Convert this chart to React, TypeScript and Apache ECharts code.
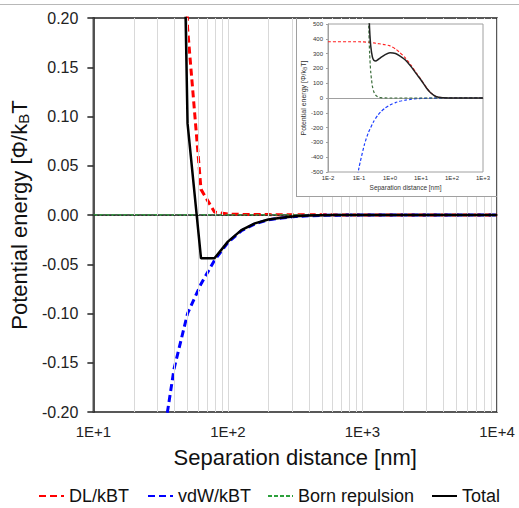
import React, { useEffect, useRef } from 'react';
import * as echarts from 'echarts';

const FONT = '"Liberation Sans", Arial, Helvetica, sans-serif';

// ---------- main chart data (separation distance in nm, 0.1-decade steps) ----------
const xMain = [10, 12.59, 15.85, 19.95, 25.12, 31.62, 39.81, 50.12, 63.1, 79.43, 100, 125.9, 158.5, 199.5, 251.2, 316.2, 398.1, 501.2, 631, 794.3, 1000, 1259, 1585, 1995, 2512, 3162, 3981, 5012, 6310, 7943, 10000];
const dlMain = [28, 17, 10.5, 6.4, 3.9, 2.3, 1.0, 0.19, 0.026, 0.003, 0.0009, 0.0006, 0.0005, 0.0004, 0.0003, 0.0003, 0.0002, 0.0002, 0.0001, 0.0001, 0, 0, 0, 0, 0, 0, 0, 0, 0, 0, 0];
const vdwMain = [-2.6, -1.7, -1.1, -0.72, -0.45, -0.245, -0.156, -0.1, -0.07, -0.046, -0.028, -0.016, -0.009, -0.005, -0.003, -0.0016, -0.0008, -0.0004, -0.0002, -0.0001, 0, 0, 0, 0, 0, 0, 0, 0, 0, 0, 0];
const bornMain = [0, 0, 0, 0, 0, 0, 0, 0, 0, 0, 0, 0, 0, 0, 0, 0, 0, 0, 0, 0, 0, 0, 0, 0, 0, 0, 0, 0, 0, 0, 0];
const totalMain = [25.4, 15.3, 9.4, 5.68, 3.45, 2.055, 0.844, 0.093, -0.044, -0.044, -0.027, -0.0154, -0.0085, -0.0046, -0.0027, -0.0013, -0.0006, -0.0002, -0.0001, 0, 0, 0, 0, 0, 0, 0, 0, 0, 0, 0, 0];
const minorGridX = [20, 30, 40, 50, 60, 70, 80, 90, 200, 300, 400, 500, 600, 700, 800, 900, 2000, 3000, 4000, 5000, 6000, 7000, 8000, 9000];

// ---------- inset data [distance nm, energy kT] ----------
const insetDL = [[0.01, 380], [0.1, 380], [0.2, 377], [0.3, 372], [0.4, 368], [0.5, 365], [0.7, 360], [1, 352], [1.5, 332], [2, 310], [3, 275], [5, 215], [7, 170], [10, 125], [15, 70], [20, 38], [30, 10], [50, 1], [100, 0], [1000, 0]];
const insetVdw = [[0.08, -590], [0.1, -470], [0.15, -313], [0.2, -235], [0.3, -157], [0.4, -118], [0.5, -94], [0.7, -67], [1, -47], [1.5, -31], [2, -23], [3, -15], [5, -8], [7, -5], [10, -3], [20, -1], [50, 0], [1000, 0]];
const insetBorn = [[0.19, 760], [0.2, 600], [0.21, 430], [0.22, 300], [0.24, 170], [0.27, 80], [0.3, 42], [0.35, 17], [0.4, 8], [0.5, 2], [0.7, 0.2], [1, 0], [1000, 0]];
const insetTotal = [[0.19, 890], [0.2, 742], [0.21, 582], [0.22, 462], [0.24, 349], [0.27, 278], [0.3, 255], [0.35, 250], [0.4, 258], [0.5, 273], [0.7, 293], [1, 305], [1.5, 301], [2, 287], [3, 260], [5, 207], [7, 165], [10, 122], [15, 68], [20, 37], [30, 10], [50, 1], [100, 0], [1000, 0]];

const legendNames = ['DL/kBT', 'vdW/kBT', 'Born repulsion', 'Total'];
const legendLeft = [33, 142, 262, 426];

const expFmt = (v: number) => {
  const e = Math.round(Math.log10(v));
  return '1E' + (e >= 0 ? '+' : '-') + Math.abs(e);
};

const pairs = (ys: number[]) => xMain.map((x, i) => [x, ys[i]]);

export default function App() {
  const ref = useRef<HTMLDivElement>(null);
  useEffect(() => {
    const chart = echarts.init(ref.current!, null, { renderer: 'svg' });
    const option: any = {
      animation: false,
      backgroundColor: '#fff',
      textStyle: { fontFamily: FONT },
      grid: [
        { left: 88, top: 18, right: 22, bottom: 96, show: true, borderColor: '#222', borderWidth: 1.5, z: 0 },
        { left: 328, top: 24, right: 36, bottom: 336, show: true, borderColor: '#a0a0a0', borderWidth: 1, z: 11 },
      ],
      xAxis: [
        {
          gridIndex: 0, type: 'log', logBase: 10, min: 10, max: 10000,
          axisLine: { show: true, lineStyle: { color: '#222', width: 1.5 } },
          axisTick: { show: false },
          axisLabel: { formatter: expFmt, fontSize: 15, color: '#222', margin: 12, fontFamily: FONT },
          splitLine: { show: true, lineStyle: { color: '#d9d9d9', width: 1 } },
          name: 'Separation distance [nm]', nameLocation: 'middle', nameGap: 34,
          nameTextStyle: { fontSize: 22, color: '#111', fontFamily: FONT },
        },
        {
          gridIndex: 1, type: 'log', logBase: 10, min: 0.01, max: 1000, z: 12,
          axisLine: { show: true, lineStyle: { color: '#a0a0a0', width: 1 } },
          axisTick: { show: false },
          axisLabel: { formatter: expFmt, fontSize: 6, color: '#333', margin: 3, fontFamily: FONT },
          splitLine: { show: false },
          name: 'Separation distance [nm]', nameLocation: 'middle', nameGap: 12,
          nameTextStyle: { fontSize: 6.5, color: '#333', fontFamily: FONT },
        },
      ],
      yAxis: [
        {
          gridIndex: 0, type: 'value', min: -0.2, max: 0.2, interval: 0.05,
          axisLine: { show: true, lineStyle: { color: '#222', width: 1.5 } },
          axisTick: { show: true, length: 6, lineStyle: { color: '#222', width: 1.5 } },
          axisLabel: { formatter: (v: number) => v.toFixed(2), fontSize: 16, color: '#222', margin: 15, fontFamily: FONT },
          splitLine: { show: false },
          name: 'Potential energy [Φ/k{sub|B}T', nameLocation: 'middle', nameGap: 52,
          nameTextStyle: {
            fontSize: 22, color: '#111', fontFamily: FONT,
            rich: { sub: { fontSize: 15, color: '#111', fontFamily: FONT, padding: [9, 0, 0, 0] } },
          },
        },
        {
          gridIndex: 1, type: 'value', min: -500, max: 500, interval: 100, z: 12,
          axisLine: { show: true, lineStyle: { color: '#a0a0a0', width: 1 } },
          axisTick: { show: true, length: 2, lineStyle: { color: '#a0a0a0' } },
          axisLabel: { fontSize: 6, color: '#333', margin: 5, fontFamily: FONT },
          splitLine: { show: false },
          name: 'Potential energy [Φ/k{sub|B}T]', nameLocation: 'middle', nameGap: 19,
          nameTextStyle: {
            fontSize: 7, color: '#333', fontFamily: FONT,
            rich: { sub: { fontSize: 5, color: '#333', fontFamily: FONT, padding: [3, 0, 0, 0] } },
          },
        },
      ],
      legend: legendNames.map((n, i) => ({
        data: [n], left: legendLeft[i], top: 482, itemWidth: 25, itemHeight: 12,
        itemStyle: { color: 'rgba(0,0,0,0)', borderWidth: 0, opacity: 0 },
        textStyle: { fontSize: 18, color: '#111', fontFamily: FONT },
      })),
      graphic: {
        elements: [
          { type: 'rect', shape: { x: 296, y: 19, width: 200, height: 177 }, style: { fill: '#fff' }, z: 10, silent: true },
          { type: 'line', shape: { x1: 296.5, y1: 18, x2: 296.5, y2: 196.5 }, style: { stroke: '#a0a0a0', lineWidth: 1 }, z: 10, silent: true },
          { type: 'line', shape: { x1: 296, y1: 196.5, x2: 497, y2: 196.5 }, style: { stroke: '#a0a0a0', lineWidth: 1 }, z: 10, silent: true },
          { type: 'line', shape: { x1: 0, y1: 4.5, x2: 519, y2: 4.5 }, style: { stroke: '#b8b8b8', lineWidth: 1 }, z: 10, silent: true },
        ],
      },
      series: [
        {
          name: 'grid-minor', type: 'line', xAxisIndex: 0, yAxisIndex: 0, data: [], z: 1, silent: true,
          markLine: {
            silent: true, symbol: ['none', 'none'], label: { show: false },
            lineStyle: { color: '#d9d9d9', width: 1, type: 'solid' },
            data: minorGridX.map((v) => ({ xAxis: v })),
          },
        },
        {
          name: 'zero-main', type: 'line', xAxisIndex: 0, yAxisIndex: 0, data: [], z: 2, silent: true,
          markLine: {
            silent: true, symbol: ['none', 'none'], label: { show: false },
            lineStyle: { color: '#333', width: 1.2, type: [2, 2] },
            data: [{ yAxis: 0 }],
          },
        },
        {
          name: 'DL/kBT', type: 'line', xAxisIndex: 0, yAxisIndex: 0, data: pairs(dlMain), symbol: 'none', z: 3,
          lineStyle: { color: '#ff0000', width: 3, type: [7, 4] }, itemStyle: { color: '#ff0000' },
        },
        {
          name: 'vdW/kBT', type: 'line', xAxisIndex: 0, yAxisIndex: 0, data: pairs(vdwMain), symbol: 'none', z: 3,
          lineStyle: { color: '#0000ff', width: 3, type: [7, 4] }, itemStyle: { color: '#0000ff' },
        },
        {
          name: 'Born repulsion', type: 'line', xAxisIndex: 0, yAxisIndex: 0, data: pairs(bornMain), symbol: 'none', z: 3,
          lineStyle: { color: '#2ca03c', width: 1.5, type: [4, 2] }, itemStyle: { color: '#2ca03c' },
        },
        {
          name: 'Total', type: 'line', xAxisIndex: 0, yAxisIndex: 0, data: pairs(totalMain), symbol: 'none', z: 5,
          lineStyle: { color: '#000', width: 2.5, type: 'solid' }, itemStyle: { color: '#000' },
        },
        {
          name: 'zero-inset', type: 'line', xAxisIndex: 1, yAxisIndex: 1, data: [], z: 12, silent: true,
          markLine: {
            silent: true, symbol: ['none', 'none'], label: { show: false },
            lineStyle: { color: '#222', width: 1, type: [1, 1] },
            data: [{ yAxis: 0 }],
          },
        },
        {
          name: 'DL inset', type: 'line', xAxisIndex: 1, yAxisIndex: 1, data: insetDL, symbol: 'none', z: 12, smooth: 0.2,
          lineStyle: { color: '#ff2020', width: 1.2, type: [3, 2] },
        },
        {
          name: 'vdW inset', type: 'line', xAxisIndex: 1, yAxisIndex: 1, data: insetVdw, symbol: 'none', z: 12, smooth: 0.2,
          lineStyle: { color: '#1a3cff', width: 1.2, type: [3, 2] },
        },
        {
          name: 'Born inset', type: 'line', xAxisIndex: 1, yAxisIndex: 1, data: insetBorn, symbol: 'none', z: 12, smooth: 0.2,
          lineStyle: { color: '#3c6e3c', width: 1.2, type: [3, 2] },
        },
        {
          name: 'Total inset', type: 'line', xAxisIndex: 1, yAxisIndex: 1, data: insetTotal, symbol: 'none', z: 13, smooth: 0.2,
          lineStyle: { color: '#222', width: 1.5, type: 'solid' },
        },
      ],
    };
    chart.setOption(option);
    return () => chart.dispose();
  }, []);
  return <div ref={ref} style={{ position: 'fixed', left: 0, top: 0, width: 519, height: 508, background: '#fff' }} />;
}
